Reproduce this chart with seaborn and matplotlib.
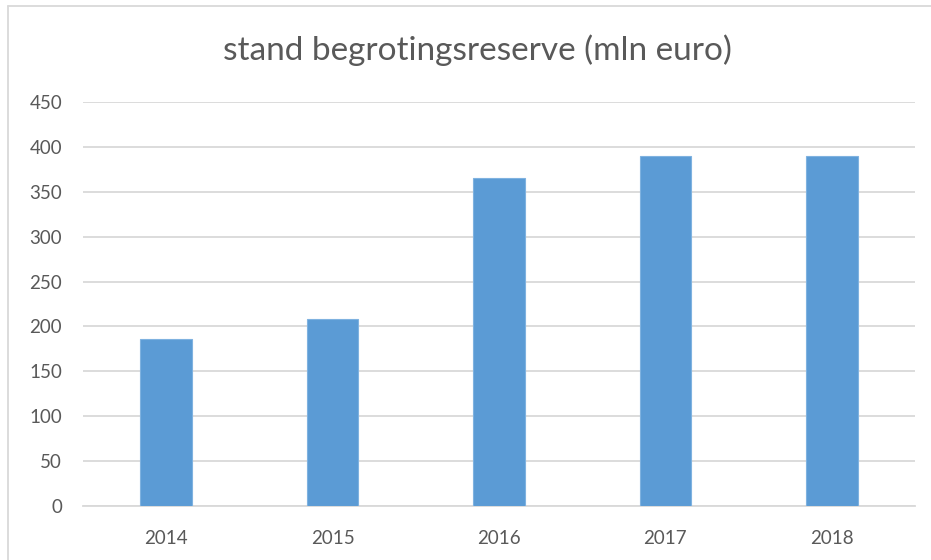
import matplotlib
matplotlib.use("Agg")
import matplotlib.pyplot as plt
import seaborn as sns
import pandas as pd
from matplotlib.lines import Line2D

# Data
years = ["2014", "2015", "2016", "2017", "2018"]
reserve = [186, 208, 365, 390, 390]

df = pd.DataFrame({"jaar": years, "reserve": reserve})

sns.set_style("white")
plt.rcParams["font.family"] = ["Lato", "DejaVu Sans"]

fig = plt.figure(figsize=(9.31, 5.6), dpi=100)
ax = fig.add_axes([83 / 931, 54 / 560, 832 / 931, 404 / 560])

sns.barplot(data=df, x="jaar", y="reserve", color="#5B9BD5", width=0.31,
            saturation=1, edgecolor="#7FB2E0", linewidth=0.8, ax=ax, zorder=3)

ax.set_ylim(0, 450)
ax.set_yticks(range(0, 451, 50))
ax.set_xlim(-0.5, 4.5)
ax.grid(axis="y", color="#D9D9D9", linewidth=1.3, zorder=0)
ax.set_xlabel("")
ax.set_ylabel("")
for side in ["top", "right", "left"]:
    ax.spines[side].set_visible(False)
ax.spines["bottom"].set_color("#D9D9D9")
ax.spines["bottom"].set_linewidth(1.3)
ax.tick_params(axis="both", length=0, labelsize=13.5, colors="#595959")
ax.tick_params(axis="y", pad=15)
ax.tick_params(axis="x", pad=17)

fig.text(477 / 931, 1 - 50 / 560, "stand begrotingsreserve (mln euro)",
         ha="center", va="center", fontsize=24, color="#595959")

# chart frame (left and top edge visible)
fig.add_artist(Line2D([8 / 931, 8 / 931], [0, 1 - 6 / 560], color="#D9D9D9",
                      linewidth=1.3, transform=fig.transFigure))
fig.add_artist(Line2D([8 / 931, 1], [1 - 6 / 560, 1 - 6 / 560], color="#D9D9D9",
                      linewidth=1.3, transform=fig.transFigure))

fig.savefig("out.png", dpi=100)
